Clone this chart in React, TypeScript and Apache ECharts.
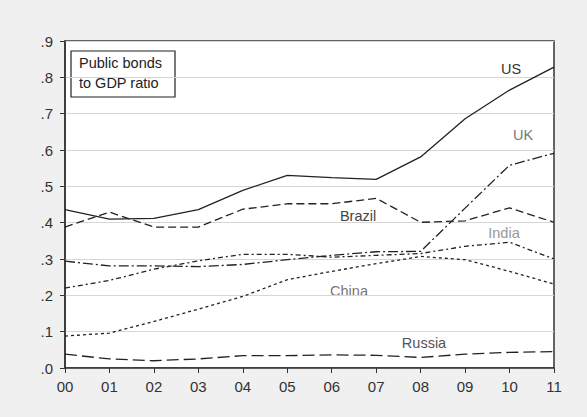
import React, { useEffect, useRef } from "react";
import * as echarts from "echarts";

const years = ["00", "01", "02", "03", "04", "05", "06", "07", "08", "09", "10", "11"];
const us = [0.436, 0.41, 0.412, 0.436, 0.489, 0.53, 0.524, 0.519, 0.581, 0.686, 0.765, 0.828];
const brazil = [0.388, 0.429, 0.388, 0.388, 0.437, 0.452, 0.452, 0.467, 0.401, 0.405, 0.441, 0.401];
const uk = [0.294, 0.281, 0.281, 0.279, 0.285, 0.298, 0.31, 0.32, 0.321, 0.44, 0.558, 0.591];
const india = [0.22, 0.241, 0.272, 0.295, 0.313, 0.313, 0.305, 0.31, 0.315, 0.335, 0.346, 0.3];
const china = [0.088, 0.096, 0.128, 0.162, 0.197, 0.243, 0.266, 0.287, 0.307, 0.298, 0.266, 0.231];
const russia = [0.038, 0.025, 0.02, 0.025, 0.034, 0.034, 0.036, 0.035, 0.029, 0.038, 0.043, 0.045];

const FONT = "'Liberation Sans', Arial, sans-serif";

export default function App() {
  const ref = useRef<HTMLDivElement>(null);
  useEffect(() => {
    if (!ref.current) return;
    const chart = echarts.init(ref.current, null, { renderer: "svg" });
    const line = (name: string, data: number[], type: any) => ({
      name,
      type: "line",
      data,
      symbol: "none",
      lineStyle: { color: "#222", width: 1.3, type },
    });
    const label = (text: string, x: number, y: number, color: string) => ({
      type: "text",
      x,
      y,
      style: {
        text,
        fill: color,
        font: `14.5px ${FONT}`,
        textAlign: "center",
        textVerticalAlign: "middle",
      },
    });
    chart.setOption({
      animation: false,
      backgroundColor: "#f0f0f0",
      grid: {
        left: 65,
        top: 41,
        right: 33,
        bottom: 49,
        show: true,
        backgroundColor: "#ffffff",
        borderColor: "#333",
        borderWidth: 1.5,
      },
      xAxis: {
        type: "category",
        data: years,
        boundaryGap: false,
        axisLine: { lineStyle: { color: "#333", width: 1.5 } },
        axisTick: { show: true, length: 5, lineStyle: { color: "#333" } },
        axisLabel: { color: "#333", fontFamily: FONT, fontSize: 15, margin: 11 },
        splitLine: { show: false },
      },
      yAxis: {
        type: "value",
        min: 0,
        max: 0.9,
        interval: 0.1,
        axisLine: { show: true, lineStyle: { color: "#333", width: 1.5 } },
        axisTick: { show: true, length: 5, lineStyle: { color: "#333" } },
        axisLabel: {
          color: "#333",
          fontFamily: FONT,
          fontSize: 15,
          margin: 12,
          formatter: (v: number) => v.toFixed(1).replace(/^0/, ""),
        },
        splitLine: { show: true, lineStyle: { color: "#d6d6d6", width: 1.2 } },
      },
      series: [
        line("US", us, "solid"),
        line("Brazil", brazil, [8, 4]),
        line("UK", uk, [10, 3, 2, 3]),
        line("India", india, [5, 3, 2, 3]),
        line("China", china, [3, 3]),
        line("Russia", russia, [12, 5]),
      ],
      graphic: [
        {
          type: "rect",
          shape: { x: 71, y: 51, width: 104, height: 46 },
          style: { fill: "#fff", stroke: "#222", lineWidth: 1.2 },
        },
        {
          type: "text",
          x: 79,
          y: 63,
          style: { text: "Public bonds", fill: "#222", font: `14.5px ${FONT}`, textVerticalAlign: "middle" },
        },
        {
          type: "text",
          x: 79,
          y: 83,
          style: { text: "to GDP ratio", fill: "#222", font: `14.5px ${FONT}`, textVerticalAlign: "middle" },
        },
        label("US", 511, 69, "#333"),
        label("UK", 523, 135, "#777"),
        label("Brazil", 358, 216, "#444"),
        label("India", 504, 233, "#999"),
        label("China", 349, 291, "#777"),
        label("Russia", 424, 343, "#555"),
      ],
    });
    return () => chart.dispose();
  }, []);
  return (
    <div
      ref={ref}
      style={{ position: "fixed", left: 0, top: 0, width: 587, height: 417 }}
    />
  );
}
